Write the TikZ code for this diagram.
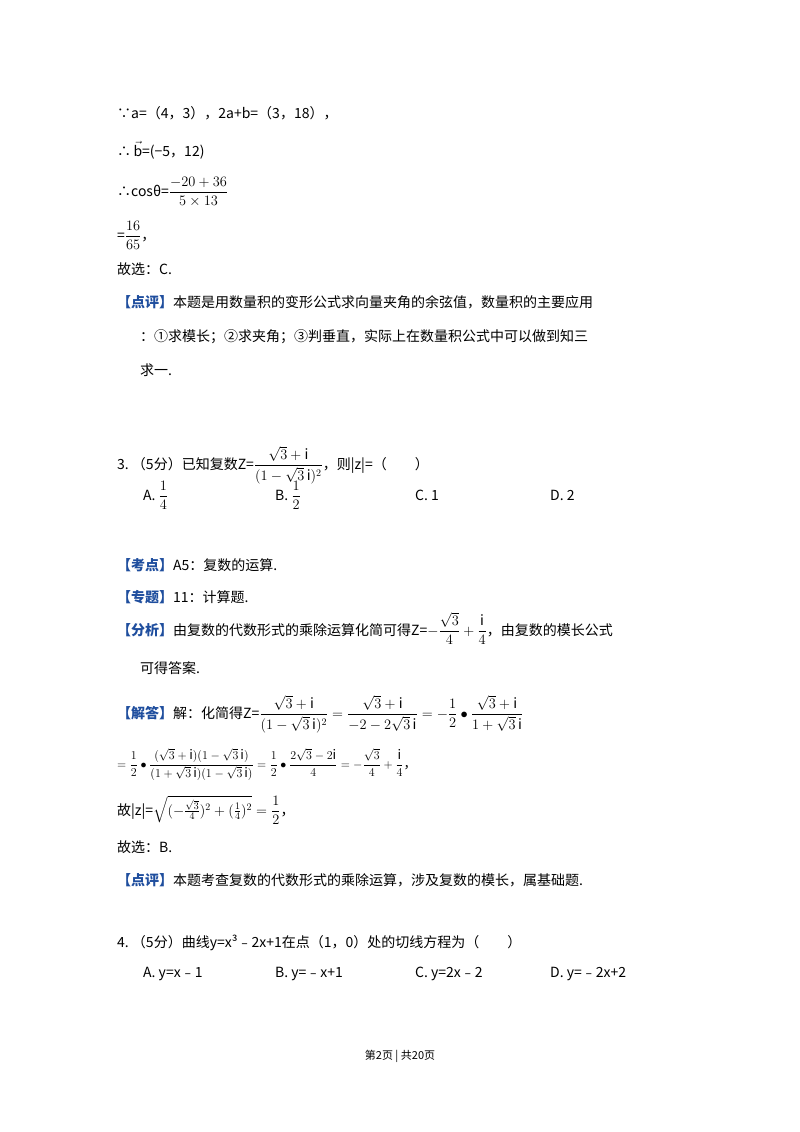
\documentclass[tikz,border=0pt]{standalone}
\usepackage{fontspec}
\usepackage{amsmath}
\setmainfont{Noto Sans CJK SC}
\definecolor{bk}{HTML}{1F4E9E}
\begin{document}
\begin{tikzpicture}[x=1pt,y=-1pt,every node/.style={anchor=base west,inner sep=0pt,font=\fontsize{14}{16}\selectfont}]
\useasboundingbox[fill=white] (0,0) rectangle (800,1132);
\newcommand{\bkt}[1]{\textcolor{bk}{\textbf{【#1】}}}
\node (l1) at (117,118) {∵a=（4，3），2a+b=（3，18），};
\node (l2) at (117,156) {∴\,$\vec{\mathrm{b}}$=(−5，12)};
\node (l3) at (117,196) {∴cosθ=$\dfrac{-20+36}{5\times 13}$};
\node (l4) at (117,240) {=$\dfrac{16}{65}$，};
\node (l5) at (117,274) {故选：C.};
\node (l6) at (117,307) {\bkt{点评}本题是用数量积的变形公式求向量夹角的余弦值，数量积的主要应用};
\node (l7) at (140,341) {：①求模长；②求夹角；③判垂直，实际上在数量积公式中可以做到知三};
\node (l8) at (140,375) {求一.};
\node (q3) at (117,469) {3.\ （5分）已知复数Z=$\dfrac{\sqrt{3}+\mathrm{i}}{(1-\sqrt{3}\,\mathrm{i})^2}$，则|z|=（\qquad）};
\node (a3) at (143,500) {A.\ $\dfrac14$};
\node (b3) at (275,500) {B.\ $\dfrac12$};
\node (c3) at (415,500) {C.\ 1};
\node (d3) at (550,500) {D.\ 2};
\node (k1) at (117,570) {\bkt{考点}A5：复数的运算.};
\node (k2) at (117,602) {\bkt{专题}11：计算题.};
\node (k3) at (117,635) {\bkt{分析}由复数的代数形式的乘除运算化简可得Z=$-\dfrac{\sqrt3}{4}+\dfrac{\mathrm{i}}{4}$，由复数的模长公式};
\node (k4) at (140,673) {可得答案.};
\node (k5) at (117,718) {\bkt{解答}解：化简得Z=$\dfrac{\sqrt{3}+\mathrm{i}}{(1-\sqrt{3}\,\mathrm{i})^2}=\dfrac{\sqrt{3}+\mathrm{i}}{-2-2\sqrt{3}\,\mathrm{i}}=-\dfrac12\bullet\dfrac{\sqrt{3}+\mathrm{i}}{1+\sqrt{3}\,\mathrm{i}}$};
\node[font=\fontsize{13}{15}\selectfont] (k6) at (117,768) {$=\dfrac12\bullet\dfrac{(\sqrt3+\mathrm{i})(1-\sqrt3\,\mathrm{i})}{(1+\sqrt3\,\mathrm{i})(1-\sqrt3\,\mathrm{i})}=\dfrac12\bullet\dfrac{2\sqrt3-2\mathrm{i}}{4}=-\dfrac{\sqrt3}{4}+\dfrac{\mathrm{i}}{4}$，};
\node (k7) at (117,815) {故|z|=$\sqrt{(-\tfrac{\sqrt3}{4})^2+(\tfrac14)^2}=\dfrac12$，};
\node (k8) at (117,852) {故选：B.};
\node (k9) at (117,885) {\bkt{点评}本题考查复数的代数形式的乘除运算，涉及复数的模长，属基础题.};
\node (q4) at (117,947) {4.\ （5分）曲线y=x³﹣2x+1在点（1，0）处的切线方程为（\qquad）};
\node (a4) at (143,977) {A.\ y=x﹣1};
\node (b4) at (275,977) {B.\ y=﹣x+1};
\node (c4) at (415,977) {C.\ y=2x﹣2};
\node (d4) at (550,977) {D.\ y=﹣2x+2};
\node[anchor=base,font=\fontsize{11}{13}\selectfont] (ft) at (400,1059) {第2页 | 共20页};
\end{tikzpicture}
\end{document}
